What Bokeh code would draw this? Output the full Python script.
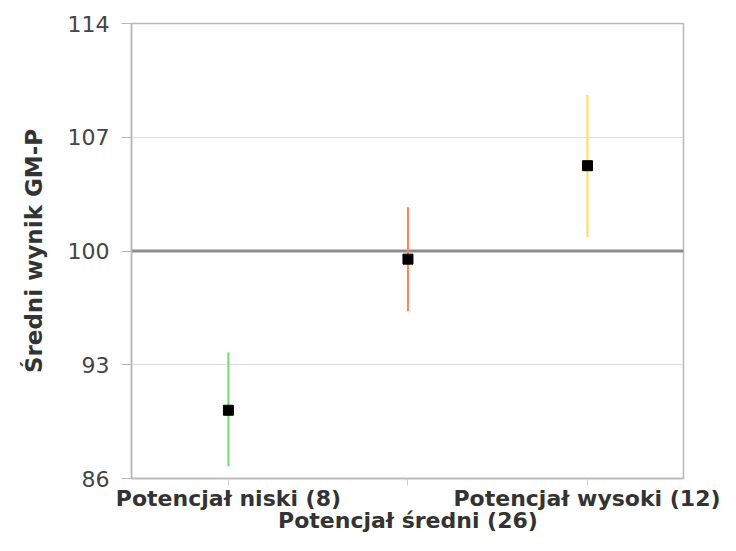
from bokeh.plotting import figure
from bokeh.models import Range1d, FixedTicker, Span, ColumnDataSource, LinearAxis
from bokeh.embed import file_html
from bokeh.resources import INLINE

# ---- data ----
categories = ["Potencjał niski (8)", "Potencjał średni (26)", "Potencjał wysoki (12)"]
means = [90.2, 99.5, 105.25]
lower = [86.75, 96.3, 100.85]
upper = [93.75, 102.7, 109.6]
bar_colors = ["#6fdc6f", "#ff8355", "#ffe04f"]
y_ticks = [86, 93, 100, 107, 114]
reference_value = 100
y_title = "Średni wynik GM-P"

FONT = "DejaVu Sans"
AX_GRAY = "#b8b8b8"

xs = list(range(len(categories)))
src = ColumnDataSource(dict(x=xs, mean=means, lo=lower, hi=upper, color=bar_colors))

p = figure(width=720, height=535, output_backend="svg", toolbar_location=None,
           x_range=Range1d(-0.54, 2.535), y_range=Range1d(y_ticks[0], y_ticks[-1]),
           min_border_left=131, min_border_right=37, min_border_top=23,
           min_border_bottom=51)

p.background_fill_color = "white"
p.border_fill_color = "white"
p.outline_line_color = AX_GRAY
p.outline_line_width = 1.5

# grid
p.xgrid.grid_line_color = None
p.ygrid.ticker = FixedTicker(ticks=y_ticks)
p.ygrid.grid_line_color = "#dedede"
p.ygrid.grid_line_width = 1

# reference line at 100
p.add_layout(Span(location=reference_value, dimension="width",
                  line_color="#8c8c8c", line_width=3, level="underlay"))

# error bars and means
p.segment(x0="x", y0="lo", x1="x", y1="hi", line_color="color", line_width=2, source=src)
p.scatter(x="x", y="mean", marker="square", size=10, fill_color="black",
          line_color="black", source=src)

# y axis
ya = p.yaxis[0]
ya.ticker = FixedTicker(ticks=y_ticks)
ya.axis_label = y_title
ya.axis_label_text_font = FONT
ya.axis_label_text_font_style = "bold"
ya.axis_label_text_font_size = "23px"
ya.axis_label_text_color = "#333333"
ya.axis_label_standoff = 18
ya.major_label_text_font = FONT
ya.major_label_text_font_size = "22px"
ya.major_label_text_color = "#444444"
ya.major_label_standoff = 12
ya.major_tick_out = 10
ya.major_tick_in = 0
ya.minor_tick_out = 0
ya.minor_tick_in = 0
ya.major_tick_line_color = AX_GRAY
ya.axis_line_color = AX_GRAY
ya.axis_line_width = 1.5

# x axis: first row carries the outer categories
xa = p.xaxis[0]
xa.ticker = FixedTicker(ticks=xs)
xa.major_label_overrides = {i: (c if i != 1 else " ") for i, c in enumerate(categories)}
xa.major_label_text_font = FONT
xa.major_label_text_font_style = "bold"
xa.major_label_text_font_size = "22px"
xa.major_label_text_color = "#333333"
xa.major_label_standoff = 0
xa.major_tick_out = 7
xa.major_tick_in = 0
xa.minor_tick_out = 0
xa.minor_tick_in = 0
xa.major_tick_line_color = "#cccccc"
xa.axis_line_color = AX_GRAY
xa.axis_line_width = 1.5

# second (staggered) row for the middle category
xa2 = LinearAxis(ticker=FixedTicker(ticks=[xs[1]]),
                 major_label_overrides={xs[1]: categories[1]})
xa2.major_label_text_font = FONT
xa2.major_label_text_font_style = "bold"
xa2.major_label_text_font_size = "22px"
xa2.major_label_text_color = "#333333"
xa2.major_label_standoff = -6
xa2.major_tick_out = 0
xa2.major_tick_in = 0
xa2.minor_tick_out = 0
xa2.minor_tick_in = 0
xa2.axis_line_color = None
xa2.major_tick_line_color = None
p.add_layout(xa2, "below")

open("out.html", "w").write(file_html(p, INLINE))
